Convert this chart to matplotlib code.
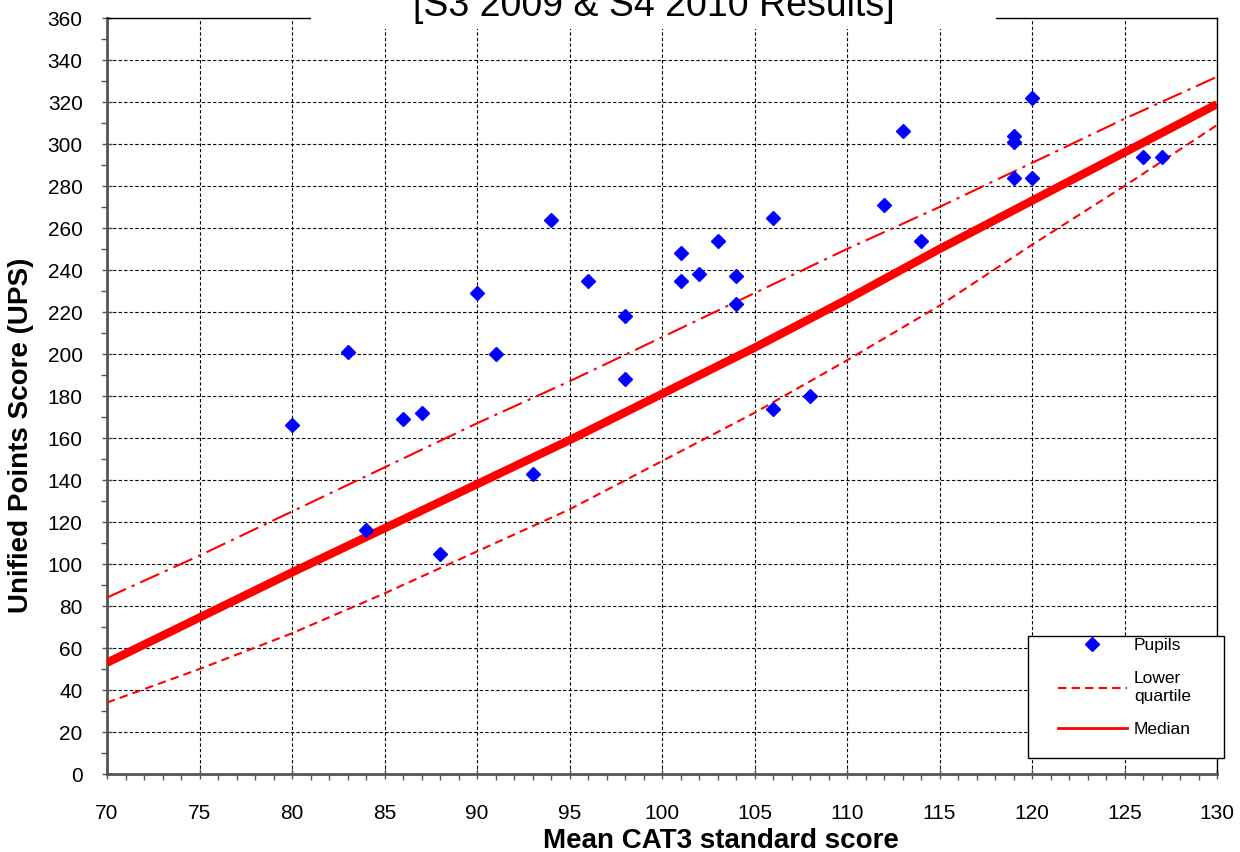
# UPS vs mean CAT3 score - pupils against median / quartile lines
import numpy as np
import matplotlib.pyplot as plt
from matplotlib.lines import Line2D
from matplotlib.patches import Rectangle
from matplotlib.ticker import MultipleLocator

plt.rcParams['font.family'] = ['Liberation Sans', 'DejaVu Sans']

# pupils (mean CAT3 standard score, unified points score)
cat3 = [80, 83, 84, 86, 87, 88, 90, 91, 93, 94, 96, 98, 98, 101, 101, 102,
        103, 104, 104, 106, 106, 108, 112, 113, 114, 119, 119, 119, 120, 120,
        126, 127]
ups = [166, 201, 116, 169, 172, 105, 229, 200, 143, 264, 235, 218, 188, 235,
       248, 238, 254, 237, 224, 265, 174, 180, 271, 306, 254, 304, 301, 284,
       322, 284, 294, 294]

# reference lines
line_x = [70, 75, 80, 85, 90, 95, 100, 105, 110, 115, 120, 125, 130]
lower_q = [34, 50, 67, 86, 106, 126, 149, 172, 197, 223, 252, 280, 309]
median = [53, 74.5, 96, 117, 138, 159, 181, 203, 226, 250, 273, 296, 319]
upper_q = [84, 104, 125, 146, 167, 187, 208, 229, 250, 270, 291, 312, 332]

W, H = 1240, 852
fig = plt.figure(figsize=(W / 100, H / 100), dpi=100)
ax = fig.add_axes([107 / W, 1 - 774 / H, 1110 / W, 756 / H])

ax.plot(line_x, upper_q, c='red', lw=1.5, ls=(0, (10, 3, 1.5, 3)), zorder=3)
ax.plot(line_x, lower_q, c='red', lw=1.5, ls=(0, (4, 2.5)), zorder=3)
ax.plot(line_x, median, c='red', lw=6, solid_capstyle='butt', zorder=3)
pts, = ax.plot(cat3, ups, ls='none', marker='D', ms=7, c='blue', mec='blue',
               label='Pupils', zorder=4)

ax.set_xlim(70, 130)
ax.set_ylim(0, 360)
ax.xaxis.set_major_locator(MultipleLocator(5))
ax.xaxis.set_minor_locator(MultipleLocator(1))
ax.yaxis.set_major_locator(MultipleLocator(20))
ax.yaxis.set_minor_locator(MultipleLocator(10))
ax.grid(True, which='major', c='black', lw=0.8, ls=(0, (3, 2)))
ax.set_axisbelow(True)

ax.tick_params(which='major', direction='inout', length=7, width=1,
               color='#555555', labelsize=15)
ax.tick_params(which='minor', direction='out', length=4, width=1,
               color='#555555')
ax.tick_params(axis='x', which='major', pad=18)
ax.tick_params(axis='y', which='major', pad=14)

for s in ['left', 'bottom']:
    ax.spines[s].set_color('#555555')
    ax.spines[s].set_linewidth(2)
for s in ['top', 'right']:
    ax.spines[s].set_color('black')
    ax.spines[s].set_linewidth(1)

ax.set_xlabel('Mean CAT3 standard score', fontsize=20, fontweight='bold')
ax.xaxis.set_label_coords((721 - 107) / 1110, (774 - 828) / 756)
ax.set_ylabel('Unified Points Score (UPS)', fontsize=20, fontweight='bold')
ax.yaxis.set_label_coords((34 - 107) / 1110, (774 - 435) / 756)

# title (top line is cut off) on a white band
fig.add_artist(Rectangle((311 / W, 1 - 29 / H), 685 / W, 29 / H,
                         transform=fig.transFigure, fc='white', ec='none',
                         zorder=3))
fig.text(654 / W, 1 - 16 / H, '[S3 2009 & S4 2010 Results]', fontsize=27,
         ha='center', va='baseline', zorder=4)

# legend box and thin legend handles
fig.add_artist(Rectangle((1028 / W, 1 - 758 / H), 196 / W, 122 / H,
                         transform=fig.transFigure, fc='white', ec='black',
                         lw=1, zorder=4))
h_lower = Line2D([], [], c='red', lw=1.5, ls=(0, (4, 2.5)))
h_med = Line2D([], [], c='red', lw=2)
fig.legend(handles=[pts, h_lower, h_med],
           labels=['Pupils', 'Lower\nquartile', 'Median'], loc='upper left',
           bbox_to_anchor=(1058 / W, 1 - 638 / H), frameon=False,
           fontsize=12.5, borderpad=0, borderaxespad=0, handlelength=3.97,
           handletextpad=0.4, labelspacing=1.05, numpoints=1)

fig.savefig('out.png', dpi=100)
